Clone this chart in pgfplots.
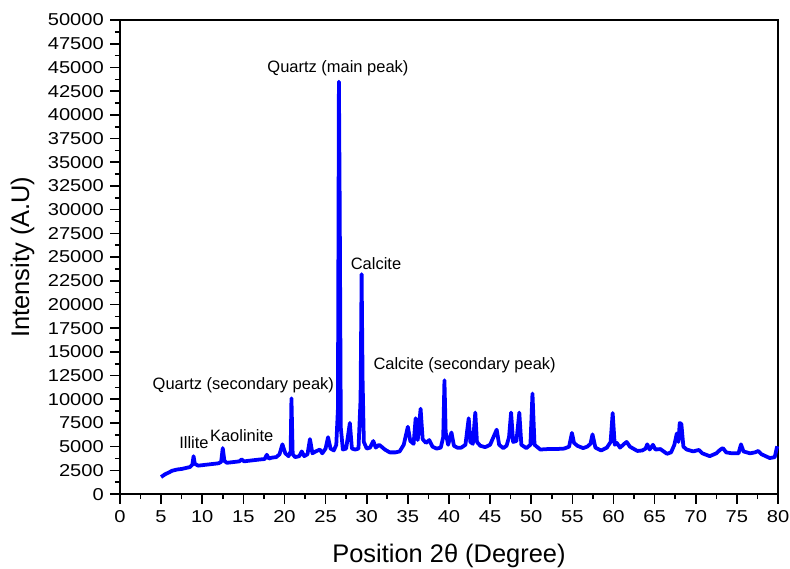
\documentclass[border=0pt]{standalone}
\usepackage{pgfplots}
\pgfplotsset{compat=1.18}
\usepackage{fontspec}
\setmainfont{Liberation Sans}
\newfontfamily\tickfont{Liberation Sans}[FakeStretch=1.17]

\pgfplotstableread{
x y
5.0 1800
5.5 2100
6.0 2300
6.3 2450
6.5 2500
7.0 2600
7.5 2650
8.0 2750
8.5 2850
8.8 3100
8.95 4000
9.1 3200
9.5 3000
10.0 3050
10.5 3100
11.0 3150
11.5 3200
12.0 3250
12.3 3400
12.5 4850
12.7 3500
13.0 3300
13.5 3350
14.0 3400
14.5 3450
14.8 3650
15.1 3450
15.5 3500
16.0 3550
16.5 3600
17.0 3650
17.6 3700
17.85 4150
18.1 3750
18.5 3850
19.0 3900
19.4 4200
19.75 5250
20.1 4300
20.5 4000
20.75 4500
20.85 10100
21.0 4200
21.3 3900
21.8 4000
22.1 4500
22.4 4000
22.8 4200
23.1 5800
23.4 4300
23.8 4500
24.3 4700
24.6 4300
25.0 4800
25.3 6000
25.6 4800
26.0 4600
26.3 5200
26.5 9000
26.62 43500
26.72 30000
26.85 7000
27.1 4700
27.5 4800
27.95 7500
28.2 4800
28.6 4700
29.0 4800
29.25 10000
29.38 23200
29.5 12000
29.65 5500
30.0 4800
30.4 4900
30.8 5600
31.1 4900
31.5 5200
31.8 5000
32.2 4700
32.8 4400
33.5 4400
34.0 4500
34.5 5200
35.0 7100
35.3 5600
35.7 5300
35.95 8000
36.2 5700
36.55 9000
36.8 5800
37.2 5400
37.6 5700
38.0 5000
38.5 4800
39.0 4900
39.3 6000
39.45 12000
39.6 6500
39.9 5200
40.3 6500
40.6 5100
41.0 4900
41.5 4900
42.0 5200
42.4 8000
42.6 5500
42.9 5300
43.2 8600
43.4 5500
43.8 5100
44.4 4950
45.0 5200
45.4 6000
45.8 6800
46.1 5200
46.6 4850
47.0 5100
47.3 6000
47.55 8600
47.8 5500
48.2 5600
48.55 8600
48.8 5200
49.4 4850
49.9 5200
50.15 10600
50.4 5200
51.1 4700
52.0 4750
53.0 4750
54.0 4800
54.6 5000
54.95 6450
55.2 5400
55.6 5100
56.3 4850
56.8 5000
57.2 5300
57.45 6300
57.8 4900
58.5 4600
59.2 4900
59.65 5500
59.9 8550
60.15 5200
60.4 5400
60.8 4900
61.3 5300
61.6 5500
62.0 5000
62.9 4550
63.5 4600
63.9 4800
64.1 5250
64.4 4700
64.8 5200
65.1 4700
65.7 4750
66.5 4250
67.0 4400
67.4 5200
67.7 6400
67.9 5500
68.05 7500
68.25 7400
68.5 5000
68.9 4700
69.3 4600
69.7 4500
70.1 4600
70.4 4650
70.8 4300
71.7 4000
72.5 4300
73.0 4700
73.3 4850
73.7 4400
74.4 4300
75.2 4300
75.5 5250
75.8 4500
76.6 4300
77.2 4400
77.6 4550
78.0 4200
79.0 3800
79.6 3900
79.9 5050
}\xrd

\begin{document}
\begin{tikzpicture}
\begin{axis}[
  scale only axis,
  width=367.6pt, height=264.8pt,
  xmin=0, xmax=80, ymin=0, ymax=50000,
  axis lines=box,
  xtick distance=5, ytick distance=2500,
  minor x tick num=1, minor y tick num=1,
  xtick pos=bottom, ytick pos=left, tick align=outside,
  major tick length=5.5pt, minor tick length=2.8pt,
  every tick/.style={black, line width=0.9pt},
  axis line style={black, line width=1.1pt},
  scaled y ticks=false,
  yticklabel style={/pgf/number format/.cd, fixed, 1000 sep={}},
  /pgf/number format/assume math mode=true,
  ticklabel style={font=\tickfont\fontsize{9.6}{11}\selectfont},
  xlabel={Position 2θ (Degree)},
  ylabel={Intensity (A.U)},
  label style={font=\fontsize{14.2}{17}\selectfont},
  xlabel style={at={(axis description cs:0.5,-0.1445)}, anchor=base, inner sep=0pt},
  ylabel style={at={(axis description cs:-0.1665,0.5)}, anchor=north, inner sep=0pt},
  clip=false,
]
\addplot[color={rgb,255:red,0;green,0;blue,255}, line width=2.1pt, line join=round] table {\xrd};
\begin{scope}[font=\fontsize{9.2}{11}\selectfont]
\node at (axis cs:26.5,44950) {Quartz (main peak)};
\node[anchor=west] at (axis cs:27.3,24270) {Calcite};
\node at (axis cs:41.9,13600) {Calcite (secondary peak)};
\node at (axis cs:15.0,11500) {Quartz (secondary peak)};
\node at (axis cs:14.8,6200) {Kaolinite};
\node at (axis cs:9.0,5400) {Illite};
\end{scope}
\coordinate (bbsw) at ([xshift=-67pt, yshift=-41.8pt]rel axis cs:0,0);
\coordinate (bbne) at ([xshift=6.7pt, yshift=11.2pt]rel axis cs:1,1);
\end{axis}
\pgfresetboundingbox
\path (bbsw) rectangle (bbne);
\end{tikzpicture}
\end{document}
